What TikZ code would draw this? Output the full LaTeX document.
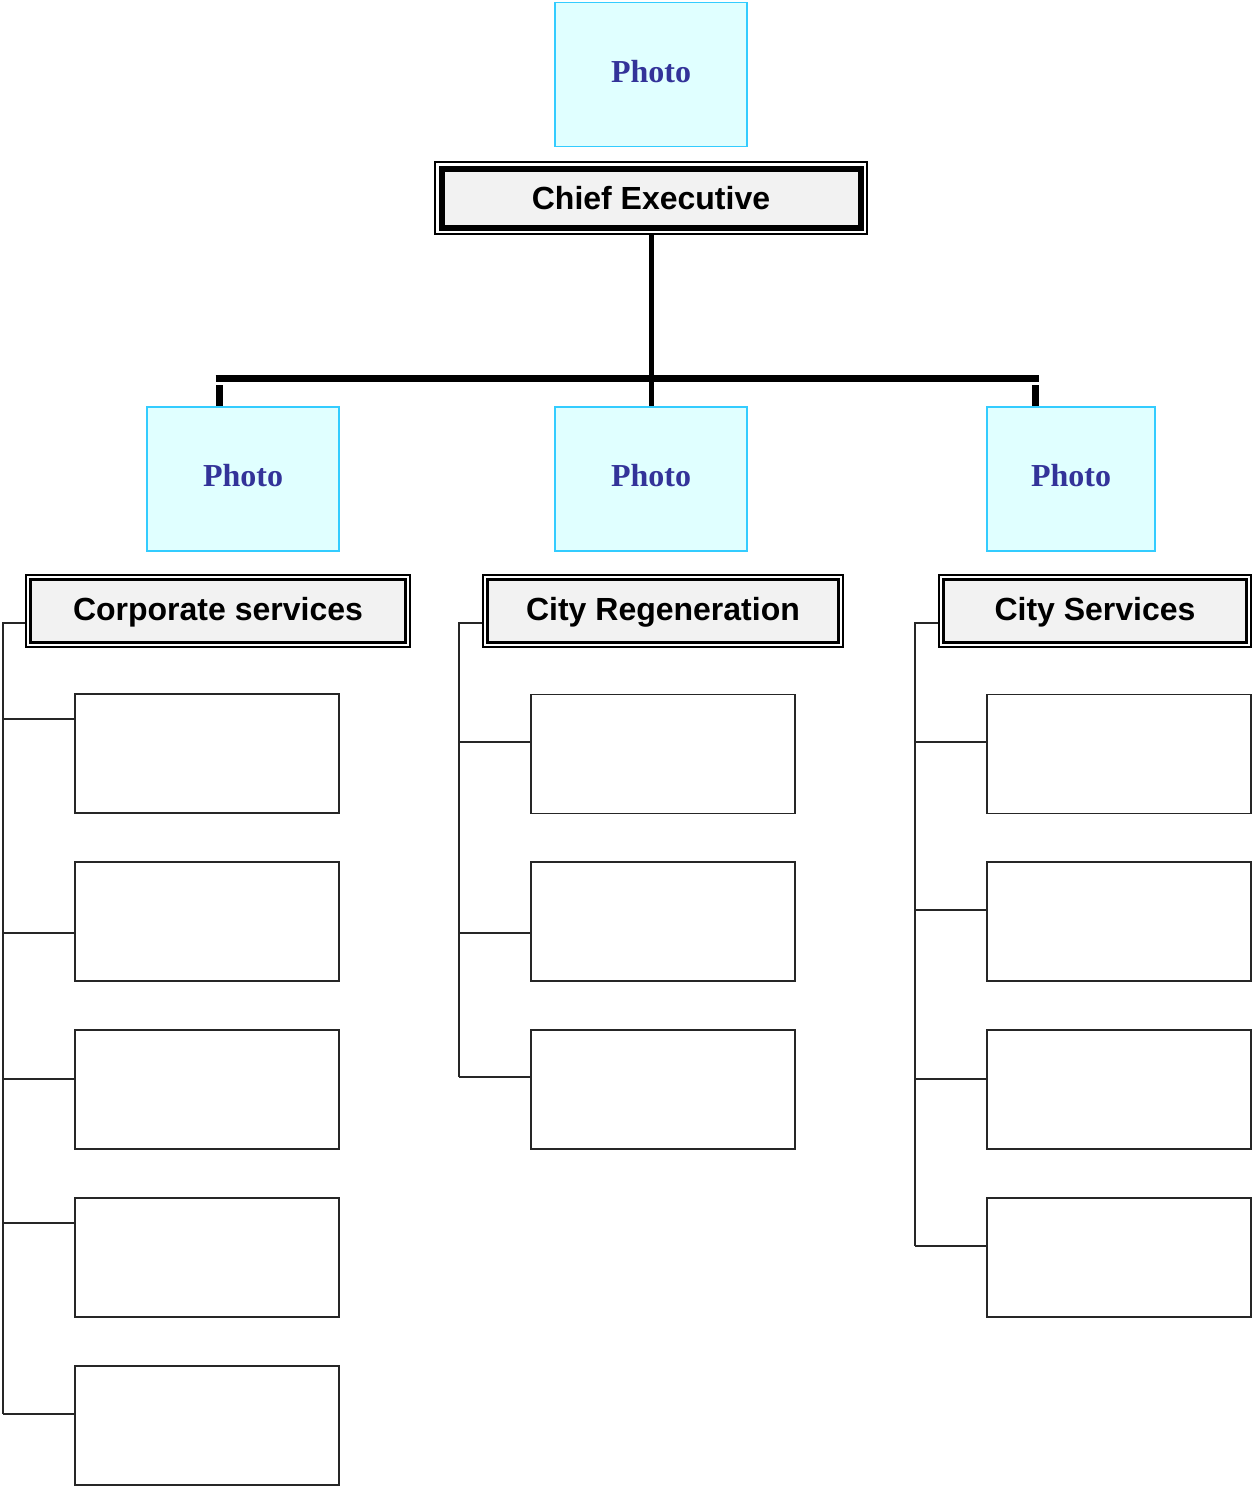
\documentclass[tikz,border=0pt]{standalone}
\usepackage{fontspec}
\setmainfont{Liberation Sans}
\newfontfamily\photofont{Liberation Serif}
\definecolor{photofill}{HTML}{E0FFFF}
\definecolor{photoline}{HTML}{33CCFF}
\definecolor{phototext}{HTML}{333399}
\definecolor{headfill}{HTML}{F2F2F2}
\begin{document}
\begin{tikzpicture}[x=1pt,y=-1pt,
  photo/.style={draw=photoline, line width=1.2pt, fill=photofill, minimum width=192pt, minimum height=144pt,
    inner sep=0pt, text=phototext, font=\photofont\fontsize{32}{36}\selectfont\bfseries},
  ceo/.style={draw=black, line width=1.2pt, fill=white, minimum width=432pt, minimum height=72pt, inner sep=0pt,
    font=\fontsize{32}{36}\selectfont\bfseries, text height=23pt, text depth=0pt,
    path picture={\draw[line width=6pt, fill=headfill]
      ([shift={(6.5pt,-6.5pt)}]path picture bounding box.north west) rectangle
      ([shift={(-6.5pt,6.5pt)}]path picture bounding box.south east);}},
  head/.style={draw=black, line width=1.2pt, fill=white, minimum height=72pt, inner sep=0pt,
    font=\fontsize{32}{36}\selectfont\bfseries, text height=23pt, text depth=4pt,
    path picture={\draw[line width=3pt, fill=headfill]
      ([shift={(4.5pt,-4.5pt)}]path picture bounding box.north west) rectangle
      ([shift={(-4.5pt,4.5pt)}]path picture bounding box.south east);}},
  unit/.style={draw=black!85, line width=1.2pt, fill=white, minimum width=264pt, minimum height=119pt, inner sep=0pt},
  conn/.style={draw=black!85, line width=1.2pt},
  thick conn/.style={draw=black, line width=6pt},
  bar/.style={draw=black, line width=7pt}
]
\useasboundingbox (0,0) rectangle (1253,1488);

% Photos
\node[photo] (ph0) at (651,74.5) {\raisebox{7pt}{Photo}};
\node[photo] (ph1) at (243,479) {\raisebox{7pt}{Photo}};
\node[photo] (ph2) at (651,479) {\raisebox{7pt}{Photo}};
\node[photo, minimum width=168pt] (ph3) at (1071,479) {\raisebox{7pt}{Photo}};

% Chief executive
\node[ceo] (ce) at (651,198) {Chief Executive};

% Headers
\node[head, minimum width=384pt] (h1) at (218,611) {Corporate services};
\node[head, minimum width=360pt] (h2) at (663,611) {City Regeneration};
\node[head, minimum width=312pt] (h3) at (1095,611) {City Services};

% Top connectors
\coordinate (barL) at (219,378);
\coordinate (barR) at (1035,378);
\draw[thick conn, line width=5pt] (ce.south) -- (ph2.north);
\draw[bar] ([xshift=-3.5pt]barL) -- ([xshift=3.5pt]barR);
\draw[bar] ([yshift=-7pt]barL) -- (barL |- ph1.north);
\draw[bar] ([yshift=-7pt]barR) -- (barR |- ph3.north);

% Unit boxes: Corporate services
\node[unit] (b11) at (207,753.5) {};
\node[unit] (b12) at (207,921.5) {};
\node[unit] (b13) at (207,1089.5) {};
\node[unit] (b14) at (207,1257.5) {};
\node[unit] (b15) at (207,1425.5) {};
% City Regeneration
\node[unit] (b21) at (663,754) {};
\node[unit] (b22) at (663,921.5) {};
\node[unit] (b23) at (663,1089.5) {};
% City Services
\node[unit] (b31) at (1119,754) {};
\node[unit] (b32) at (1119,921.5) {};
\node[unit] (b33) at (1119,1089.5) {};
\node[unit] (b34) at (1119,1257.5) {};

% branch points
\coordinate (a11) at ([yshift=34.5pt]b11.west);
\coordinate (a12) at ([yshift=-11.5pt]b12.west);
\coordinate (a13) at ([yshift=10.5pt]b13.west);
\coordinate (a14) at ([yshift=34.5pt]b14.west);
\coordinate (a15) at ([yshift=11.5pt]b15.west);
\coordinate (a21) at ([yshift=12pt]b21.west);
\coordinate (a22) at ([yshift=-11.5pt]b22.west);
\coordinate (a23) at ([yshift=12.5pt]b23.west);
\coordinate (a31) at ([yshift=12pt]b31.west);
\coordinate (a32) at ([yshift=11.5pt]b32.west);
\coordinate (a33) at ([yshift=10.5pt]b33.west);
\coordinate (a34) at ([yshift=11.5pt]b34.west);

\coordinate (s1) at (3,1414);
\coordinate (s2) at (459,1077);
\coordinate (s3) at (915,1246);

\draw[conn] ([yshift=-12pt]h1.west) -| (s1);
\draw[conn] ([yshift=-12pt]h2.west) -| (s2);
\draw[conn] ([yshift=-12pt]h3.west) -| (s3);

\foreach \a in {a11,a12,a13,a14,a15} \draw[conn] (\a -| s1) -- (\a);
\foreach \a in {a21,a22,a23} \draw[conn] (\a -| s2) -- (\a);
\foreach \a in {a31,a32,a33,a34} \draw[conn] (\a -| s3) -- (\a);
\end{tikzpicture}
\end{document}
